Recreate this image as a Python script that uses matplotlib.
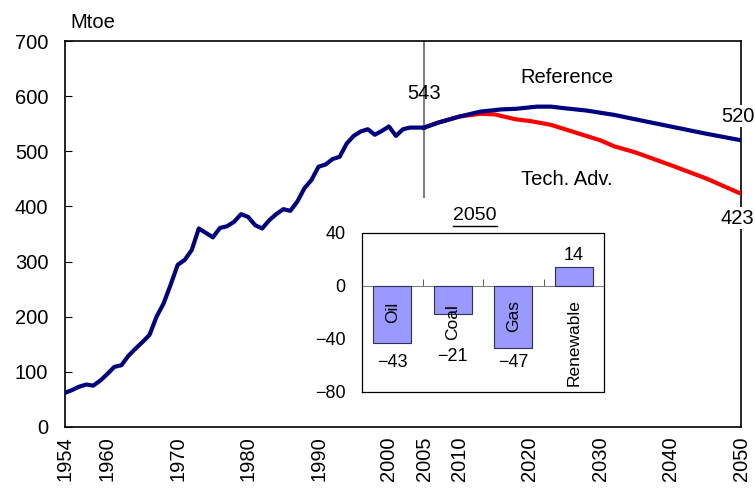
import matplotlib
matplotlib.use('Agg')
import matplotlib.pyplot as plt

plt.rcParams['font.family'] = ['Liberation Sans', 'DejaVu Sans']

# ---------------------------------------------------------------------------
# Data (Mtoe)
# ---------------------------------------------------------------------------
years_hist = list(range(1954, 2006))
demand_hist = [62, 67, 73, 77, 75, 84, 96, 109, 112, 129,
               142, 154, 167, 200, 224, 258, 294, 303, 321, 360,
               352, 344, 361, 364, 372, 386, 381, 366, 360, 375,
               386, 395, 392, 409, 433, 448, 472, 476, 486, 490,
               514, 528, 536, 540, 530, 537, 545, 528, 540, 543,
               543, 543]

years_ref = [2005, 2007, 2010, 2013, 2016, 2018, 2021, 2023, 2025, 2028,
             2030, 2032, 2035, 2040, 2045, 2050]
demand_ref = [543, 552, 563, 572, 576, 577, 581, 581, 578, 574,
              570, 566, 558, 545, 532, 520]

years_tech = [2005, 2007, 2010, 2013, 2015, 2018, 2020, 2023, 2025, 2028,
              2030, 2032, 2035, 2040, 2045, 2050]
demand_tech = [543, 552, 563, 568, 567, 558, 555, 548, 540, 528,
               520, 509, 498, 475, 451, 423]

tick_years = [1954, 1960, 1970, 1980, 1990, 2000, 2005, 2010, 2020, 2030, 2040, 2050]

# 2050 difference Tech. Adv. - Reference
sources = ['Oil', 'Coal', 'Gas', 'Renewable']
diff_2050 = [-43, -21, -47, 14]

# ---------------------------------------------------------------------------
# Main chart
# ---------------------------------------------------------------------------
fig = plt.figure(figsize=(7.55, 4.93), dpi=100)
ax = fig.add_axes([0.0861, 0.1339, 0.8954, 0.7829])

ax.plot(years_tech, demand_tech, color='#FF0000', lw=3.0, zorder=3)
ax.plot(years_hist, demand_hist, color='#000080', lw=3.0, zorder=4)
ax.plot(years_ref, demand_ref, color='#000080', lw=3.0, zorder=4)

ax.set_xlim(1954, 2050)
ax.set_ylim(0, 700)
ax.set_yticks(range(0, 701, 100))
ax.set_xticks(tick_years)
ax.set_xticklabels([str(y) for y in tick_years], rotation=90)
ax.tick_params(axis='x', length=0, pad=7, labelsize=14.5)
ax.tick_params(axis='y', direction='in', length=5, pad=12, labelsize=14.5)
ax.set_xticks([2005], minor=True)
ax.tick_params(axis='x', which='minor', direction='in', length=7, width=1, color='#404040')
for s in ax.spines.values():
    s.set_linewidth(1.2)

# 2005 divider line
ax.axvline(2005, ymin=417 / 700, ymax=1, color='#808080', lw=1.5, zorder=2)

ax.text(2005, 605, '543', ha='center', va='center', fontsize=14.5)
ax.text(2025.3, 633, 'Reference', ha='center', va='center', fontsize=14.5)
ax.text(2025.3, 448, 'Tech. Adv.', ha='center', va='center', fontsize=14.5)
ax.text(2049.5, 564, '520', ha='center', va='center', fontsize=14.5, zorder=6,
        bbox=dict(facecolor='white', edgecolor='none', pad=1), clip_on=False)
ax.text(2049.5, 379, '423', ha='center', va='center', fontsize=14.5, zorder=6,
        bbox=dict(facecolor='white', edgecolor='none', pad=1), clip_on=False)
fig.text(70 / 755, 1 - 22 / 493, 'Mtoe', ha='left', va='center', fontsize=14.5)

# ---------------------------------------------------------------------------
# Inset: 2050 difference by source
# ---------------------------------------------------------------------------
ins = fig.add_axes([0.4795, 0.2049, 0.3205, 0.3225])
x = list(range(len(sources)))
ins.bar(x, diff_2050, width=0.63, color='#9999FF', edgecolor='#303060', lw=0.8, zorder=3)
ins.set_xlim(-0.5, 3.5)
ins.set_ylim(-80, 40)
ins.set_yticks([40, 0, -40, -80])
ins.set_yticklabels(['40', '0', '\u221240', '\u221280'])
ins.tick_params(axis='y', length=0, pad=12, labelsize=13)
ins.set_xticks([])
ins.spines['bottom'].set_position(('data', 0))
ins.spines['bottom'].set_color('#808080')
ins.set_xticks([0.5, 1.5, 2.5], minor=True)
ins.xaxis.set_ticks_position('bottom')
ins.tick_params(axis='x', which='minor', direction='in', length=5, color='#404040')
ins.plot([0, 0, 1, 1, 0], [0, 1, 1, 0, 0], transform=ins.transAxes,
         color='black', lw=0.9, clip_on=False, zorder=5)
for s in ['left', 'right', 'top']:
    ins.spines[s].set_visible(False)

label_y = [-20, -27, -23, -43]
for i, name in enumerate(sources):
    ins.text(i, label_y[i], name, rotation=90, ha='center', va='center', fontsize=12.5, zorder=6)

value_y = [-58, -53, -58, 23]
for i, v in enumerate(diff_2050):
    txt = str(v).replace('-', '\u2212')
    ins.text(i, value_y[i], txt, ha='center', va='center', fontsize=13)

# underlined title
ins.text(0.467, 1.11, '2050', transform=ins.transAxes, ha='center', va='center', fontsize=14)
ins.plot([0.378, 0.556], [1.045, 1.045], transform=ins.transAxes, color='black', lw=1,
         clip_on=False)

plt.savefig('out.png', dpi=100)
